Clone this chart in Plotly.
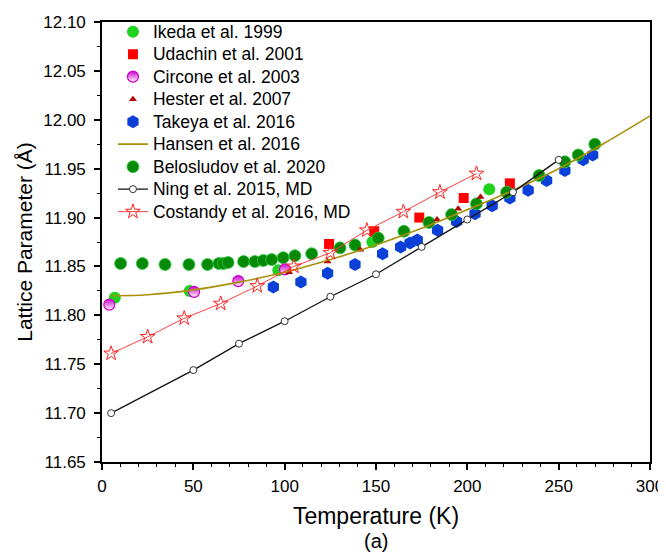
import plotly.graph_objects as go

# ---- data ----
ikeda_T = [7, 48, 96.5, 148, 212]
ikeda_L = [11.818, 11.825, 11.846, 11.875, 11.929]

udachin_T = [124.3, 149, 173.7, 198, 223.3]
udachin_L = [11.873, 11.886, 11.900, 11.920, 11.935]

circone_T = [4, 50.4, 74.6, 100.2]
circone_L = [11.811, 11.824, 11.835, 11.847]

hester_T = [102.4, 123.5, 141.4, 183.4, 195, 207.2]
hester_L = [11.844, 11.855, 11.867, 11.898, 11.909, 11.921]

takeya_T = [93.8, 108.9, 123.5, 138.5, 153.6, 163.5, 168.6, 172.6, 183.7, 194.1,
            204.2, 213.6, 223.3, 233.3, 243.4, 253.4, 263.4, 268.6]
takeya_L = [11.829, 11.834, 11.843, 11.852, 11.863, 11.870, 11.874, 11.877, 11.887, 11.896,
            11.904, 11.912, 11.920, 11.928, 11.938, 11.948, 11.959, 11.964]

hansen_T = [5, 25, 50, 75, 100, 125, 150, 175, 200, 225, 250, 275, 300]
hansen_L = [11.820, 11.821, 11.826, 11.834, 11.844, 11.857, 11.872, 11.889, 11.908,
            11.928, 11.950, 11.976, 12.004]

belos_T = [10.2, 22.1, 34.5, 47.6, 57.8, 64, 66.5, 69, 77.5, 83.7, 88.3, 92.9, 99.2,
           105.6, 114.8, 130.3, 138.5, 151.2, 165.3, 179, 191.4, 205, 221.5, 239.3,
           253.4, 260.7, 269.8]
belos_L = [11.853, 11.853, 11.852, 11.852, 11.852, 11.853, 11.853, 11.854, 11.855, 11.855,
           11.856, 11.857, 11.859, 11.861, 11.863, 11.869, 11.872, 11.879, 11.886, 11.895,
           11.903, 11.914, 11.926, 11.943, 11.957, 11.964, 11.975]

ning_T = [5, 50, 75, 100, 125, 150, 175, 200, 225, 250]
ning_L = [11.700, 11.744, 11.771, 11.794, 11.819, 11.842, 11.870, 11.898, 11.926, 11.959]

costandy_T = [5, 25, 45, 65, 85, 105, 125, 145, 165, 185, 205]
costandy_L = [11.761, 11.778, 11.797, 11.812, 11.830, 11.850, 11.864, 11.887, 11.906,
              11.926, 11.945]

x_ticks = [0, 50, 100, 150, 200, 250, 300]
y_ticks = [11.65, 11.70, 11.75, 11.80, 11.85, 11.90, 11.95, 12.00, 12.05, 12.10]

FONT = "Liberation Sans, Arial"


def lg(name):
    # larger legend text while keeping the compact row spacing of the reference
    return '<span style="font-size:17.5px">' + name + '</span>'


fig = go.Figure()

# draw order (bottom -> top), legend order via legendrank
fig.add_trace(go.Scatter(x=ikeda_T, y=ikeda_L, mode="markers", name=lg("Ikeda et al. 1999"),
                         legendrank=1,
                         marker=dict(symbol="circle", size=12, color="#1ED21E",
                                     line=dict(width=0))))
fig.add_trace(go.Scatter(x=udachin_T, y=udachin_L, mode="markers",
                         name=lg("Udachin et al. 2001"), legendrank=2,
                         marker=dict(symbol="square", size=10, color="#FF0000",
                                     line=dict(width=0))))
fig.add_trace(go.Scatter(x=takeya_T, y=takeya_L, mode="markers",
                         name=lg("Takeya et al. 2016"), legendrank=5,
                         marker=dict(symbol="hexagon", size=13, color="#0A40D8",
                                     line=dict(width=0))))
fig.add_trace(go.Scatter(x=belos_T, y=belos_L, mode="markers",
                         name=lg("Belosludov et al. 2020"), legendrank=7,
                         marker=dict(symbol="circle", size=12, color="#078A07",
                                     line=dict(width=0.8, color="#2ECC40"))))
fig.add_trace(go.Scatter(x=circone_T, y=circone_L, mode="markers",
                         name=lg("Circone et al. 2003"), legendrank=3,
                         marker=dict(symbol="circle", size=11, color="#CC00CC",
                                     gradient=dict(type="vertical", color="#FFFFFF"),
                                     line=dict(width=1.2, color="#CC00CC"))))
fig.add_trace(go.Scatter(x=hester_T, y=hester_L, mode="markers",
                         name=lg("Hester et al. 2007"), legendrank=4,
                         marker=dict(symbol="triangle-up", size=7, color="#B00000",
                                     line=dict(width=0))))
fig.add_trace(go.Scatter(x=hansen_T, y=hansen_L, mode="lines",
                         name=lg("Hansen et al. 2016"), legendrank=6,
                         line=dict(color="#A8900C", width=1.6, shape="spline")))
fig.add_trace(go.Scatter(x=ning_T, y=ning_L, mode="lines+markers",
                         name=lg("Ning et al. 2015, MD"), legendrank=8,
                         line=dict(color="#111111", width=1.3),
                         marker=dict(symbol="circle", size=7, color="#FFFFFF",
                                     line=dict(width=1, color="#333333"))))
fig.add_trace(go.Scatter(x=costandy_T, y=costandy_L, mode="lines+markers",
                         name=lg("Costandy et al. 2016, MD"), legendrank=9,
                         line=dict(color="#FF4040", width=1),
                         marker=dict(symbol="star-open", size=11, color="#FF2020",
                                     line=dict(width=1))))

axis_common = dict(showline=True, linecolor="black", linewidth=1.6, mirror=True,
                   ticks="outside", ticklen=6, tickwidth=1.5, tickcolor="black",
                   showgrid=False, zeroline=False, automargin=False,
                   tickfont=dict(family=FONT, size=17, color="black"))

fig.update_xaxes(range=[0, 300], tickvals=x_ticks, ticklabelstandoff=2,
                 minor=dict(dtick=10, ticks="outside", ticklen=3, tickwidth=1.2,
                            tickcolor="black"),
                 title=dict(text="Temperature (K)", standoff=13,
                            font=dict(family=FONT, size=23, color="black")),
                 **axis_common)
fig.update_yaxes(range=[11.65, 12.10], tickvals=y_ticks, tickformat=".2f",
                 ticklabelstandoff=5,
                 minor=dict(dtick=0.025, ticks="outside", ticklen=3, tickwidth=1.2,
                            tickcolor="black"),
                 title=dict(text="Lattice Parameter (Å)", standoff=5,
                            font=dict(family=FONT, size=21, color="black")),
                 **axis_common)

fig.add_annotation(text="(a)", xref="paper", yref="paper", x=0.5, y=-0.18,
                   xanchor="center", yanchor="middle", showarrow=False,
                   font=dict(family=FONT, size=20, color="black"))

# the page body adds an 8px offset, so the figure is 8px smaller than the window
fig.update_layout(
    width=658, height=547,
    margin=dict(l=94, r=16, t=14, b=93, autoexpand=False),
    paper_bgcolor="white", plot_bgcolor="white",
    legend=dict(x=0.02, y=1.015, xanchor="left", yanchor="top",
                bgcolor="rgba(0,0,0,0)", borderwidth=0, tracegroupgap=0,
                font=dict(family=FONT, size=15, color="black")),
)

fig.write_html("out.html")
